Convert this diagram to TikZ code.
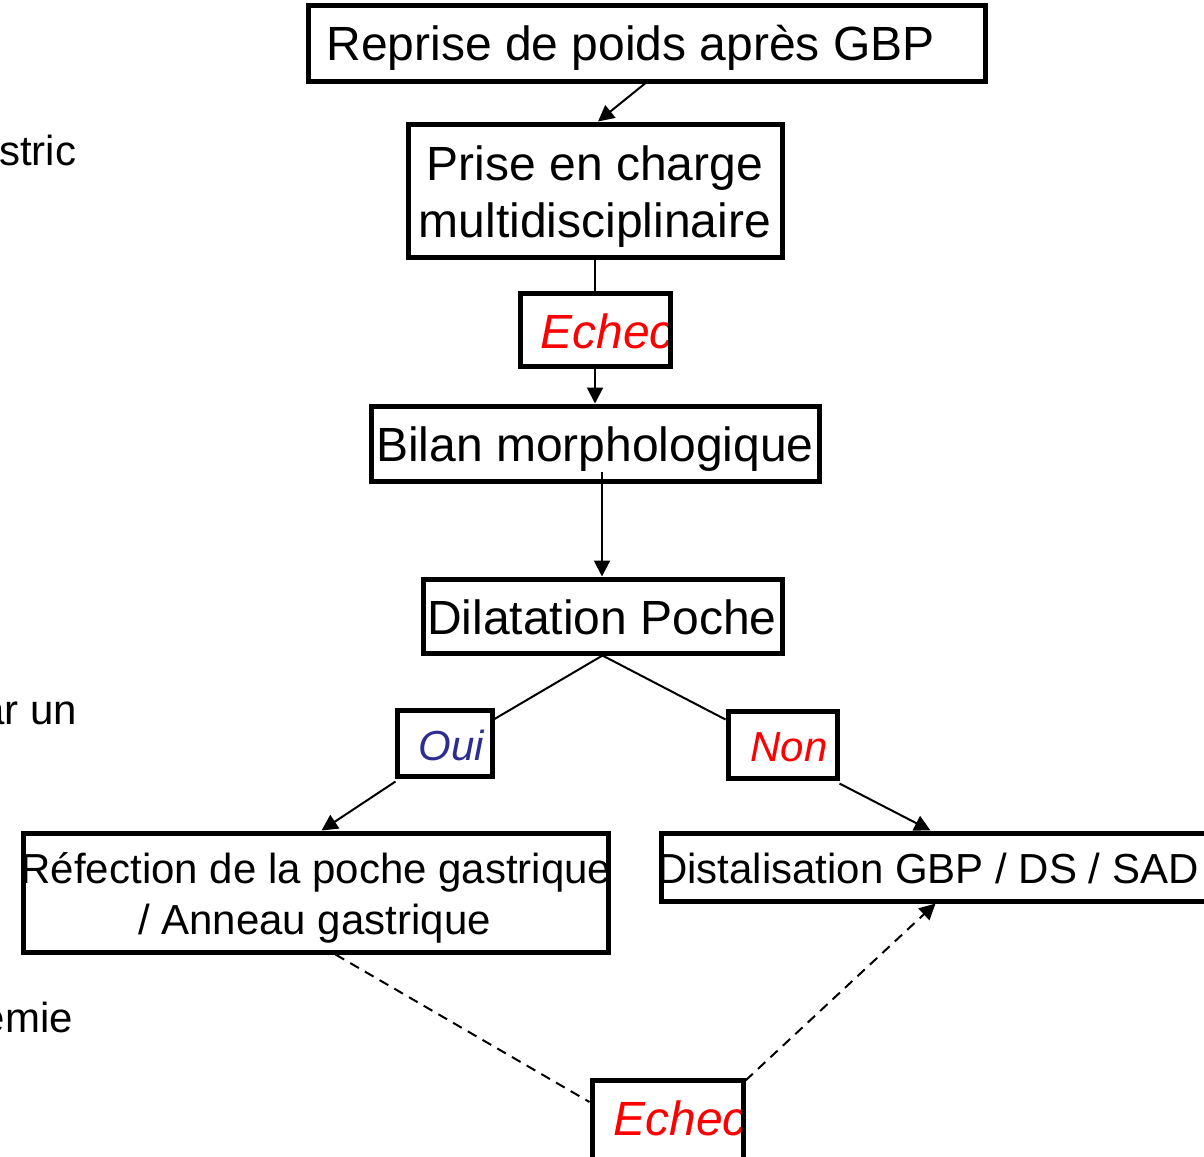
\documentclass[tikz,border=0pt]{standalone}
\usepackage{fontspec}
\setmainfont{Liberation Sans}
\usetikzlibrary{arrows.meta,calc,positioning}
\definecolor{ouiblue}{RGB}{45,45,145}
\tikzset{
  box/.style={draw,rectangle,line width=5pt,inner sep=0pt},
  big/.style={inner sep=0pt,font=\fontsize{48}{57}\selectfont},
  small/.style={inner sep=0pt,font=\fontsize{42}{50}\selectfont},
  arr/.style={-{Triangle[length=16pt,width=16pt]},line width=2pt},
  plain/.style={line width=2pt},
  dashlink/.style={line width=2pt,dash pattern=on 10pt off 7pt}
}

\begin{document}
\begin{tikzpicture}[x=1pt,y=-1pt]
  \useasboundingbox (0,0) rectangle (1204,1156);

  % texts
  \node[big,anchor=base] (repriset) at (630.5,61) {Reprise de poids après GBP};
  \node[big,anchor=base] (priset1) at (595,180) {Prise en charge};
  \node[big,anchor=base] (priset2) at (595,237) {multidisciplinaire};
  \node[big,anchor=base,text=red] (echecAt) at (607,348) {\itshape Echec};
  \node[big,anchor=base] (bilant) at (595,461) {Bilan morphologique};
  \node[big,anchor=base] (dilatt) at (602,634) {Dilatation Poche};
  \node[small,anchor=base,text=ouiblue] (ouit) at (451.5,760) {\itshape Oui};
  \node[small,anchor=base,text=red] (nont) at (789,761) {\itshape Non};
  \node[small,anchor=base] (refectiont1) at (316,883) {Réfection de la poche gastrique};
  \node[small,anchor=base] (refectiont2) at (314.5,934) {/ Anneau gastrique};
  \node[small,anchor=base west] (distalt) at (657,883) {Distalisation GBP / DS / SAD};
  \node[big,anchor=base,text=red] (echecBt) at (680,1135) {\itshape Echec};

  \node[small,anchor=base west] (left1) at (-1,165) {stric};
  \node[small,anchor=base east] (left2) at (77,724) {ar un};
  \node[small,anchor=base east] (left3) at (73,1032) {emie};

  % boxes
  \node[box,minimum width=677,minimum height=75] (reprise) at (646.5,43.5) {};
  \node[box,minimum width=374,minimum height=133] (prise) at (595,190.5) {};
  \node[box,minimum width=150,minimum height=73] (echecA) at (595,329.5) {};
  \node[box,minimum width=448,minimum height=75] (bilan) at (595,443.5) {};
  \node[box,minimum width=359,minimum height=74] (dilat) at (602.5,616) {};
  \node[box,minimum width=95,minimum height=66] (oui) at (444.5,743) {};
  \node[box,minimum width=109,minimum height=67] (non) at (782.5,744.5) {};
  \node[box,minimum width=585,minimum height=119] (refection) at (315.5,892.5) {};
  \node[box,minimum width=559,minimum height=68] (distal) at (940.5,867) {};
  \node[box,minimum width=151,minimum height=100] (echecB) at (667.5,1130) {};

  % links
  \draw[arr] ([xshift=-1.5pt]reprise.south) -- ([xshift=3pt]prise.north);
  \draw[plain] (prise.south) -- (echecA.north);
  \draw[arr] (echecA.south) -- (bilan.north);
  \coordinate (bilanout) at ([xshift=7pt,yshift=12pt]bilan.south);
  \draw[arr] (bilanout) -- (bilanout |- dilat.north);
  \draw[plain] (dilat.south) -- ([yshift=24pt]oui.east);
  \draw[plain] (dilat.south) -- ([yshift=25pt]non.west);
  \draw[arr] ([xshift=1pt,yshift=-3pt]oui.south west) -- ([xshift=6pt]refection.north);
  \draw[arr] ([yshift=-3pt]non.south east) -- ([xshift=-10pt]distal.north);
  \draw[dashlink] ([xshift=20pt]refection.south) -- ([yshift=28pt]echecB.west);
  \draw[dashlink,-{Triangle[length=16pt,width=16pt]}] ([yshift=-3pt]echecB.north east) -- ([xshift=-5pt]distal.south);
\end{tikzpicture}
\end{document}
